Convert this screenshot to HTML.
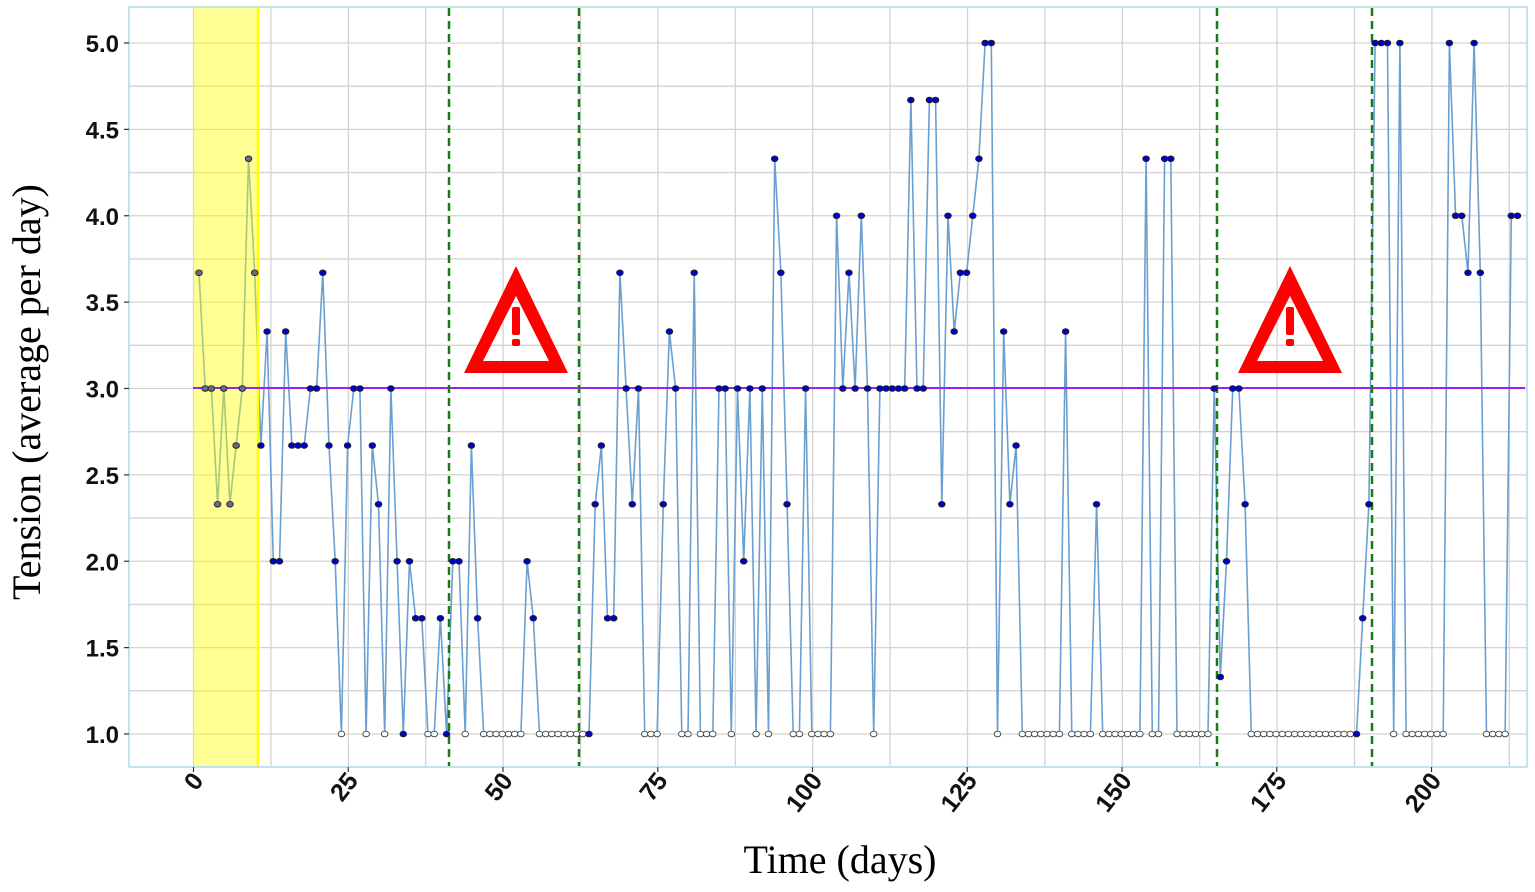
<!DOCTYPE html>
<html><head><meta charset="utf-8"><style>
html,body{margin:0;padding:0;background:#fff;}
svg{display:block;}
</style></head><body>
<svg id="s" width="1535" height="892" xmlns="http://www.w3.org/2000/svg">
<rect x="0" y="0" width="1535" height="892" fill="#fff"/>
<g id="grid"></g>
<g id="lines"></g>
<rect x="193" y="8" width="65" height="758" fill="#ffff00" opacity="0.42"/>
<line x1="258" y1="8" x2="258" y2="766" stroke="#ffff00" stroke-width="2.5"/>
<line x1="193" y1="388" x2="1525" y2="388" stroke="#a020f0" stroke-width="2"/>
<g stroke="#1a7a1a" stroke-width="2.5" stroke-dasharray="8,5">
<line x1="449" y1="8" x2="449" y2="766"/>
<line x1="579" y1="8" x2="579" y2="766"/>
<line x1="1217" y1="8" x2="1217" y2="766"/>
<line x1="1372" y1="8" x2="1372" y2="766"/>
</g>
<g id="pts"></g>
<rect x="129" y="7" width="1398" height="760" fill="none" stroke="#add8e6" stroke-width="1.5"/>
<g fill="#ff0000">
<path d="M516 266 L568 373 L464 373 Z M516 296 L483 361 L549 361 Z" fill-rule="evenodd"/>
<rect x="512" y="307" width="8" height="28" rx="2"/>
<rect x="512" y="339" width="8" height="7" rx="2"/>
<path d="M1290 266 L1342 373 L1238 373 Z M1290 296 L1257 361 L1323 361 Z" fill-rule="evenodd"/>
<rect x="1286" y="307" width="8" height="28" rx="2"/>
<rect x="1286" y="339" width="8" height="7" rx="2"/>
</g>
<g id="ylab" font-family="Liberation Sans, sans-serif" font-weight="bold" font-size="24" fill="#111" text-anchor="end"></g>
<g id="xlab" font-family="Liberation Sans, sans-serif" font-weight="bold" font-size="25" fill="#111" text-anchor="end"></g>
<text x="840" y="873" font-family="Liberation Serif, serif" font-size="40" text-anchor="middle" fill="#000">Time (days)</text>
<text transform="translate(40,392) rotate(-90)" font-family="Liberation Serif, serif" font-size="40" text-anchor="middle" fill="#000">Tension (average per day)</text>
</svg>
<script>
var NS="http://www.w3.org/2000/svg";
function el(p,t,a){var e=document.createElementNS(NS,t);for(var k in a)e.setAttribute(k,a[k]);document.getElementById(p).appendChild(e);return e;}
function Y(v){return 734-(v-1)*172.75;}
function X(i){return 199+6.19*i;}
for(var v=0.75;v<=5.2;v+=0.25){var y=Y(v);if(y<8||y>766)continue;el("grid","line",{x1:129,x2:1527,y1:y,y2:y,stroke:"#d3d3d3","stroke-width":1.3});}
for(var k=0;k<=18;k++){var x=193.5+77.4*k-77.4;if(x<130||x>1526)continue;el("grid","line",{x1:x,x2:x,y1:8,y2:766,stroke:"#d3d3d3","stroke-width":1.3});}
var d=[3.67,3,3,2.33,3,2.33,2.67,3,4.33,3.67,2.67,3.33,2,2,3.33,2.67,2.67,2.67,3,3,3.67,2.67,2,1,2.67,3,3,1,2.67,2.33,1,3,2,1,2,1.67,1.67,1,1,1.67,1,2,2,1,2.67,1.67];
var f=function(n,v){for(var i=0;i<n;i++)d.push(v);};
f(7,1);d.push(2,1.67);f(9,1);d.push(2.33,2.67,1.67,1.67,3.67,3,2.33,3);f(3,1);d.push(2.33,3.33,3,1,1,3.67,1,1,1,3,3,1,3,2,3,1,3,1,4.33,3.67,2.33,1,1,3,1,1,1,1,4,3,3.67,3,4,3,1,3,3,3,3,3,4.67,3,3,4.67,4.67,2.33,4,3.33,3.67,3.67,4,4.33,5,5,1,3.33,2.33,2.67);
f(7,1);d.push(3.33);f(4,1);d.push(2.33);f(7,1);d.push(4.33,1,1,4.33,4.33);f(6,1);d.push(3,1.33,2,3,3,2.33);f(18,1);d.push(1.67,2.33,5,5,5,1,5);f(7,1);d.push(5,4,4,3.67,5,3.67,1,1,1,1,4,4);
var blueOne={33:1,40:1,63:1,187:1};
var pts=d.map(function(v,i){return X(i).toFixed(1)+","+Y(v).toFixed(1);}).join(" ");
el("lines","polyline",{points:pts,fill:"none",stroke:"#6a9fd0","stroke-width":1.6});
d.forEach(function(v,i){
 var fill,st="#222";
 if(i<=9){fill="#6a6a8a";}
 else if(v===1&&!blueOne[i]){fill="#fff";st="#444";}
 else fill="#0000cc";
 el("pts","ellipse",{cx:X(i),cy:Y(v),rx:3.3,ry:2.8,fill:fill,stroke:st,"stroke-width":0.9});
});
[1,1.5,2,2.5,3,3.5,4,4.5,5].forEach(function(v){var y=Y(v);
 el("ylab","line",{x1:124,x2:129,y1:y,y2:y,stroke:"#333","stroke-width":1.2});
 var t=el("ylab","text",{x:119,y:y+9});t.textContent=v.toFixed(1);});
[0,25,50,75,100,125,150,175,200].forEach(function(v){var x=193.5+6.19*v;
 el("xlab","line",{x1:x,x2:x,y1:767,y2:772,stroke:"#333","stroke-width":1.2});
 var t=el("xlab","text",{transform:"translate("+(x+11)+",781) rotate(-52)"});t.textContent=v;});
</script>
</body></html>
